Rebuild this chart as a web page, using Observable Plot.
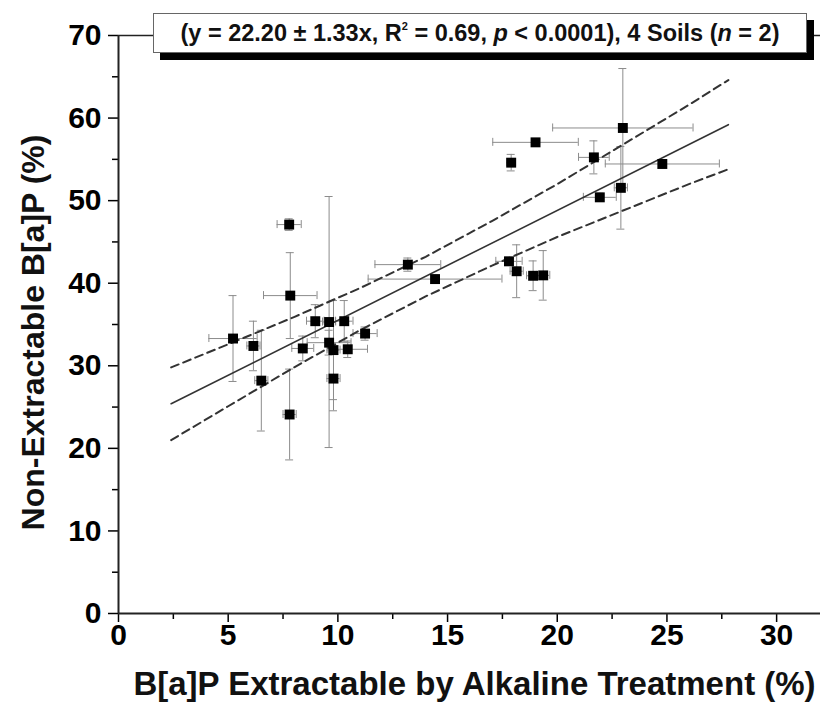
<!DOCTYPE html>
<html>
<head>
<meta charset="utf-8">
<script src="https://cdn.jsdelivr.net/npm/d3@7"></script>
<script src="https://cdn.jsdelivr.net/npm/@observablehq/plot@0.6"></script>
<style>
  html, body { margin: 0; padding: 0; background: #fff; }
  #wrap { position: relative; width: 824px; height: 702px; font-family: "Liberation Sans", Arial, sans-serif; }
  #legend {
    position: absolute; left: 153px; top: 13px; width: 652px; height: 38px;
    background: #fff; border: 1px solid #666; box-shadow: 7px 7px 0 #000;
    font: bold 23.5px "Liberation Sans", Arial, sans-serif; color: #111;
    display: flex; align-items: center; justify-content: center; white-space: nowrap;
  }
  #legend sup { font-size: 11px; vertical-align: 11px; line-height: 0; }
</style>
</head>
<body>
<div id="wrap"><div id="legend"><span id="legtext"></span></div></div>
<script>
// ---- data ----
const xVals = [5.22, 6.15, 6.51, 7.78, 7.83, 7.80, 8.40, 8.97, 9.60, 10.29, 9.60, 9.80, 10.45, 11.24, 9.80,
               13.19, 14.43, 17.80, 18.15, 18.90, 19.36, 17.90, 19.01, 21.67, 21.94, 22.99, 22.90, 24.79];
const yVals = [33.3, 32.4, 28.2, 47.1, 38.5, 24.1, 32.1, 35.4, 35.3, 35.4, 32.8, 31.9, 32.0, 33.9, 28.45,
               42.25, 40.5, 42.65, 41.45, 40.9, 40.95, 54.6, 57.06, 55.24, 50.4, 58.8, 51.55, 54.44];
const xErr  = [1.1, 0.3, 0.3, 0.55, 1.22, 0.3, 0.5, 0.4, 0.3, 0.4, 1.0, 0.3, 0.9, 0.55, 0.3,
               1.5, 3.05, 0.6, 0.3, 0.3, 0.3, 0.2, 1.95, 0.7, 0.75, 3.2, 0.3, 2.6];
const yErr  = [5.2, 3.0, 6.1, 0.7, 5.2, 5.5, 1.5, 2.0, 15.2, 2.5, 1.5, 6.0, 1.0, 0.8, 3.9,
               0.8, 0.5, 0.5, 3.2, 1.8, 3.0, 1.0, 0.3, 2.0, 0.5, 7.2, 5.0, 0.5];

// regression line and 95% band
const fitX = [2.4, 27.8];
const fitY = [25.4, 59.2];
const bandX     = [2.4, 5, 8, 11, 14, 17, 20, 23, 26, 27.8];
const bandUpper = [29.8, 32.6, 35.9, 39.4, 43.2, 47.5, 52.0, 56.8, 61.6, 64.6];
const bandLower = [21.0, 25.1, 29.8, 34.3, 38.4, 42.1, 45.6, 48.8, 52.0, 53.8];

// axes
const xMajorTicks = [0, 5, 10, 15, 20, 25, 30];
const xMinorTicks = [2.5, 7.5, 12.5, 17.5, 22.5, 27.5];
const yMajorTicks = [0, 10, 20, 30, 40, 50, 60, 70];
const yMinorTicks = [5, 15, 25, 35, 45, 55, 65];
const xLabel = "B[a]P Extractable by Alkaline Treatment (%)";
const yLabel = "Non-Extractable B[a]P (%)";
const legendHTML = "(y = 22.20 ± 1.33x, R<sup>2</sup> = 0.69, <i>p</i> &lt; 0.0001), 4 Soils (<i>n</i> = 2)";

// ---- build ----
const pts = xVals.map((x, i) => ({x, y: yVals[i], xe: xErr[i], ye: yErr[i]}));
const fit = fitX.map((x, i) => ({x, y: fitY[i]}));
const up = bandX.map((x, i) => ({x, y: bandUpper[i]}));
const lo = bandX.map((x, i) => ({x, y: bandLower[i]}));

const errColor = "#8c8c8c";
const font = "Liberation Sans, Arial, sans-serif";

const chart = Plot.plot({
  width: 824,
  height: 702,
  marginLeft: 118,
  marginRight: 4,
  marginTop: 35,
  marginBottom: 89,
  style: {background: "#fff", color: "#000", fontFamily: font, overflow: "visible"},
  x: {domain: [0, 32]},
  y: {domain: [0, 70]},
  marks: [
    // axes
    Plot.axisX({ticks: xMajorTicks, tickSize: 9, tickPadding: 1, fontSize: 30, fontWeight: "bold", label: null, strokeWidth: 1.5}),
    Plot.axisX({ticks: xMinorTicks, tickSize: 6, tickFormat: () => "", label: null, strokeWidth: 1.5}),
    Plot.axisY({ticks: yMajorTicks, tickSize: 10, tickPadding: 7, fontSize: 30, fontWeight: "bold", label: null, strokeWidth: 1.5}),
    Plot.axisY({ticks: yMinorTicks, tickSize: 6, tickFormat: () => "", label: null, strokeWidth: 1.5}),
    Plot.ruleY([0], {stroke: "#222", strokeWidth: 2}),
    Plot.ruleX([0], {stroke: "#222", strokeWidth: 2}),
    Plot.ruleY([70], {stroke: "#222", strokeWidth: 1.5}),
    // error bars
    Plot.ruleX(pts, {x: "x", y1: d => d.y - d.ye, y2: d => d.y + d.ye, stroke: errColor, strokeWidth: 1}),
    Plot.ruleY(pts, {y: d => d.y - d.ye, x1: "x", x2: "x", insetLeft: -4, insetRight: -4, stroke: errColor, strokeWidth: 1}),
    Plot.ruleY(pts, {y: d => d.y + d.ye, x1: "x", x2: "x", insetLeft: -4, insetRight: -4, stroke: errColor, strokeWidth: 1}),
    Plot.ruleY(pts, {y: "y", x1: d => d.x - d.xe, x2: d => d.x + d.xe, stroke: errColor, strokeWidth: 1}),
    Plot.ruleX(pts, {x: d => d.x - d.xe, y1: "y", y2: "y", insetTop: -4, insetBottom: -4, stroke: errColor, strokeWidth: 1}),
    Plot.ruleX(pts, {x: d => d.x + d.xe, y1: "y", y2: "y", insetTop: -4, insetBottom: -4, stroke: errColor, strokeWidth: 1}),
    // regression and band
    Plot.line(up, {x: "x", y: "y", stroke: "#333", strokeWidth: 2, strokeDasharray: "8,5"}),
    Plot.line(lo, {x: "x", y: "y", stroke: "#333", strokeWidth: 2, strokeDasharray: "8,5"}),
    Plot.line(fit, {x: "x", y: "y", stroke: "#333", strokeWidth: 1.6}),
    // points
    Plot.dot(pts, {x: "x", y: "y", symbol: "square", r: 5.6, fill: "#000", stroke: "none"}),
    // axis titles
    Plot.text([xLabel], {text: d => d, frameAnchor: "bottom", textAnchor: "middle", lineAnchor: "middle", dx: 5, dy: 71, fontSize: 33, fontWeight: "bold", fill: "#111"}),
    Plot.text([yLabel], {text: d => d, frameAnchor: "left", textAnchor: "middle", lineAnchor: "middle", dx: -85, dy: 8, rotate: -90, fontSize: 32, fontWeight: "bold", fill: "#111"})
  ]
});

document.getElementById("wrap").prepend(chart);
document.getElementById("legtext").innerHTML = legendHTML;
</script>
</body>
</html>
